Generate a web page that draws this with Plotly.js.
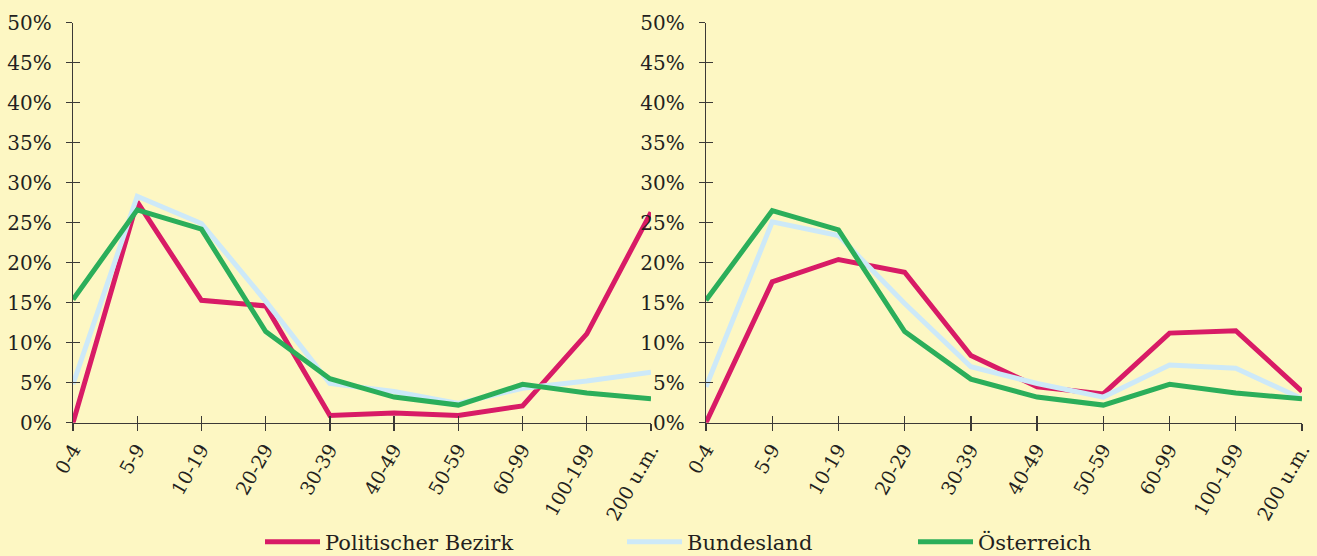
<!DOCTYPE html>
<html>
<head>
<meta charset="utf-8">
<script src="https://cdn.plot.ly/plotly-3.0.1.min.js"></script>
<style>html,body{margin:0;padding:0;background:#FDF7C3;}#chart{width:1317px;height:556px;}</style>
</head>
<body>
<div id="chart"></div>
<script>
const categories = ['0-4','5-9','10-19','20-29','30-39','40-49','50-59','60-99','100-199','200 u.m.'];
const seriesNames = ['Politischer Bezirk','Bundesland','Österreich'];
const bezirkLeft = [0, 27.6, 15.3, 14.6, 0.9, 1.2, 0.9, 2.1, 11.1, 26.3];
const bundeslandLeft = [4.8, 28.3, 24.9, 15.2, 4.9, 3.9, 2.4, 4.3, 5.2, 6.3];
const oesterreichLeft = [15.4, 26.6, 24.2, 11.4, 5.5, 3.2, 2.2, 4.8, 3.7, 3.0];
const bezirkRight = [0, 17.6, 20.4, 18.8, 8.4, 4.5, 3.6, 11.2, 11.5, 3.9];
const bundeslandRight = [4.5, 25.1, 23.4, 14.9, 7.0, 4.9, 3.2, 7.2, 6.8, 3.0];
const oesterreichRight = [15.3, 26.5, 24.1, 11.4, 5.45, 3.2, 2.2, 4.8, 3.7, 3.0];

const colors = ['#D81B66', '#CDE9F8', '#2BAE5A'];
const FONT = 'DejaVu Serif, serif';
const TXT = '#231F20';
const AX = '#3C3A36';

const leftSets = [bezirkLeft, bundeslandLeft, oesterreichLeft];
const rightSets = [bezirkRight, bundeslandRight, oesterreichRight];
const legendIds = ['legend', 'legend2', 'legend3'];

const traces = [];
leftSets.forEach((vals, i) => {
  traces.push({x: categories, y: vals, xaxis: 'x', yaxis: 'y', type: 'scatter', mode: 'lines',
    name: seriesNames[i], line: {color: colors[i], width: 5}, legend: legendIds[i], showlegend: true, hoverinfo: 'skip'});
});
rightSets.forEach((vals, i) => {
  traces.push({x: categories, y: vals, xaxis: 'x2', yaxis: 'y2', type: 'scatter', mode: 'lines',
    name: seriesNames[i], line: {color: colors[i], width: 5}, showlegend: false, hoverinfo: 'skip'});
});
// helper traces for the inner half of the crossing tick marks
traces.push({x: [], y: [], xaxis: 'x3', yaxis: 'y3', type: 'scatter', mode: 'lines', showlegend: false, hoverinfo: 'skip'});
traces.push({x: [], y: [], xaxis: 'x4', yaxis: 'y4', type: 'scatter', mode: 'lines', showlegend: false, hoverinfo: 'skip'});

const W = 1317, H = 556;
const yDom = [(H - 422.7) / H, (H - 22.7) / H];
const xDomL = [73 / W, 651 / W];
const xDomR = [706 / W, 1302 / W];

function mainX(domain, anchor) {
  return {domain: domain, anchor: anchor, type: 'category', range: [0, 9], showgrid: false, zeroline: false,
    showline: true, linecolor: AX, linewidth: 1.3, ticks: 'outside', ticklen: 7, tickwidth: 1.3, tickcolor: AX,
    tickangle: -60, tickfont: {family: FONT, size: 19, color: TXT}, automargin: false, fixedrange: true};
}
function mainY(anchor) {
  return {domain: yDom, anchor: anchor, range: [0, 50], dtick: 5, ticksuffix: '%', showgrid: false, zeroline: false,
    showline: true, linecolor: AX, linewidth: 1.3, ticks: 'outside', ticklen: 6, tickwidth: 1.3, tickcolor: AX,
    ticklabelstandoff: 10, tickfont: {family: FONT, size: 20, color: TXT}, automargin: false, fixedrange: true};
}
function overX(over, anchor) {
  return {overlaying: over, anchor: anchor, side: 'bottom', type: 'linear', range: [0, 9], tickvals: [0,1,2,3,4,5,6,7,8,9],
    showticklabels: false, showgrid: false, zeroline: false, showline: false, ticks: 'inside', ticklen: 7, tickwidth: 1.3,
    tickcolor: AX, fixedrange: true};
}
function overY(over, anchor) {
  return {overlaying: over, anchor: anchor, side: 'left', range: [0, 50], dtick: 5, showticklabels: false,
    showgrid: false, zeroline: false, showline: false, ticks: 'inside', ticklen: 7, tickwidth: 1.3, tickcolor: AX, fixedrange: true};
}

function legendAt(x) {
  return {x: x, xanchor: 'left', xref: 'container', y: (H - 542) / H, yref: 'container', yanchor: 'middle',
    orientation: 'h', bgcolor: 'rgba(0,0,0,0)', borderwidth: 0, itemwidth: 55,
    font: {family: FONT, size: 21, color: TXT}, itemclick: false, itemdoubleclick: false};
}

const layout = {
  width: W, height: H,
  margin: {l: 0, r: 0, t: 0, b: 0, autoexpand: false},
  paper_bgcolor: '#FDF7C3', plot_bgcolor: '#FDF7C3',
  font: {family: FONT, color: TXT},
  showlegend: true,
  xaxis: mainX(xDomL, 'y'), yaxis: mainY('x'),
  xaxis2: mainX(xDomR, 'y2'), yaxis2: mainY('x2'),
  xaxis3: overX('x', 'y3'), yaxis3: overY('y', 'x3'),
  xaxis4: overX('x2', 'y4'), yaxis4: overY('y2', 'x4'),
  legend: legendAt(260 / W),
  legend2: legendAt(622 / W),
  legend3: legendAt(913 / W)
};

Plotly.newPlot('chart', traces, layout, {displayModeBar: false, staticPlot: true});
</script>
</body>
</html>
